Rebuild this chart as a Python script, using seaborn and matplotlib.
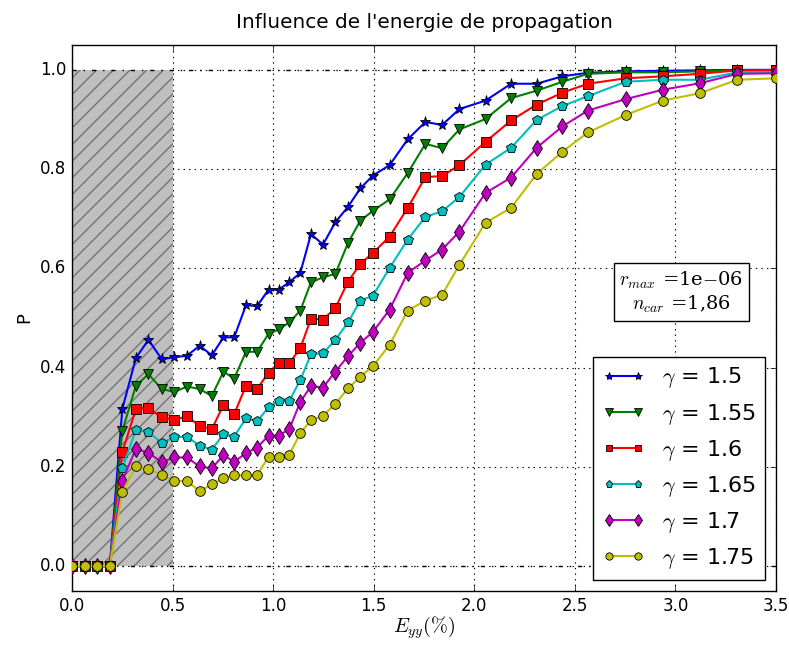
import numpy as np
import matplotlib
matplotlib.use("Agg")
import matplotlib.pyplot as plt
import seaborn as sns

# strain values (%)
e_yy = [0, 0.0625, 0.125, 0.1875, 0.25, 0.318, 0.38, 0.446, 0.509, 0.571, 0.634,
        0.695, 0.753, 0.806, 0.865, 0.92, 0.977, 1.027, 1.08, 1.135, 1.188, 1.248,
        1.309, 1.372, 1.433, 1.496, 1.579, 1.669, 1.757, 1.84, 1.926, 2.056, 2.183,
        2.31, 2.438, 2.565, 2.753, 2.938, 3.122, 3.308, 3.5]

p_150 = [0, 0, 0, 0, 0.317, 0.42, 0.456, 0.417, 0.421, 0.424, 0.444, 0.425, 0.461,
         0.461, 0.526, 0.524, 0.557, 0.557, 0.572, 0.591, 0.669, 0.648, 0.693, 0.724,
         0.761, 0.787, 0.808, 0.86, 0.895, 0.889, 0.921, 0.938, 0.972, 0.972, 0.987,
         0.994, 0.997, 0.998, 0.999, 1.0, 1.0]
p_155 = [0, 0, 0, 0, 0.273, 0.364, 0.387, 0.357, 0.351, 0.362, 0.357, 0.343, 0.392,
         0.378, 0.432, 0.432, 0.468, 0.477, 0.491, 0.515, 0.572, 0.582, 0.589, 0.651,
         0.696, 0.716, 0.739, 0.792, 0.851, 0.842, 0.88, 0.901, 0.943, 0.958, 0.976,
         0.992, 0.995, 0.995, 0.997, 0.999, 0.999]
p_160 = [0, 0, 0, 0, 0.23, 0.317, 0.318, 0.30, 0.295, 0.302, 0.283, 0.276, 0.325,
         0.306, 0.364, 0.357, 0.39, 0.409, 0.409, 0.439, 0.499, 0.497, 0.52, 0.573,
         0.609, 0.631, 0.664, 0.722, 0.784, 0.786, 0.808, 0.855, 0.898, 0.93, 0.954,
         0.972, 0.983, 0.987, 0.992, 0.999, 0.999]
p_165 = [0, 0, 0, 0, 0.197, 0.275, 0.27, 0.249, 0.26, 0.261, 0.243, 0.235, 0.266,
         0.261, 0.298, 0.292, 0.32, 0.333, 0.333, 0.375, 0.427, 0.429, 0.456, 0.491,
         0.535, 0.545, 0.601, 0.658, 0.704, 0.715, 0.744, 0.809, 0.843, 0.899, 0.927,
         0.947, 0.976, 0.98, 0.98, 0.995, 0.995]
p_170 = [0, 0, 0, 0, 0.172, 0.237, 0.228, 0.21, 0.219, 0.219, 0.201, 0.197, 0.224,
         0.21, 0.228, 0.239, 0.263, 0.263, 0.276, 0.331, 0.363, 0.36, 0.392, 0.423,
         0.45, 0.472, 0.517, 0.591, 0.616, 0.638, 0.674, 0.752, 0.783, 0.843, 0.886,
         0.918, 0.941, 0.96, 0.973, 0.992, 0.993]
p_175 = [0, 0, 0, 0, 0.15, 0.202, 0.196, 0.183, 0.172, 0.172, 0.151, 0.165, 0.177,
         0.183, 0.183, 0.183, 0.221, 0.221, 0.224, 0.268, 0.294, 0.303, 0.327, 0.358,
         0.382, 0.403, 0.446, 0.515, 0.535, 0.547, 0.607, 0.692, 0.722, 0.79, 0.835,
         0.874, 0.909, 0.938, 0.953, 0.98, 0.983]

gammas = ["1.5", "1.55", "1.6", "1.65", "1.7", "1.75"]
curves = [p_150, p_155, p_160, p_165, p_170, p_175]

colors = ["b", "g", "r", "c", "m", "y"]
markers = ["*", "v", "s", "p", "d", "o"]
msizes = [8, 7, 6.5, 7, 8, 7]


def main():
    plt.style.use("classic")
    plt.rcParams["figure.facecolor"] = "white"

    fig = plt.figure(figsize=(7.89, 6.45), dpi=100)
    ax = fig.add_axes([0.0913, 0.0837, 0.8922, 0.8465])

    # shaded zone below 0.5 %
    ax.fill_between([0, 0.5], 0, 1, facecolor="0.75", edgecolor="0.45",
                    hatch="//", linewidth=0.0, zorder=1)
    ax.axhline(0, color="k", ls="-.", lw=1, zorder=1.5)
    ax.axhline(1, color="k", ls="-.", lw=1, zorder=1.5)

    for p, g, c, m, ms in zip(curves, gammas, colors, markers, msizes):
        sns.lineplot(x=e_yy, y=p, ax=ax, color=c, marker=m, markersize=ms,
                     markeredgecolor="k", markeredgewidth=0.6, linewidth=1.5,
                     label=r"$\gamma$ = " + g, zorder=3)

    ax.set_xlim(0, 3.5)
    ax.set_ylim(-0.05, 1.05)
    ax.set_xticks(np.arange(0, 3.51, 0.5))
    ax.set_yticks(np.arange(0, 1.01, 0.2))
    ax.grid(True, color="k", ls=":", lw=0.8)
    ax.set_axisbelow(True)

    ax.set_title("Influence de l'energie de propagation", fontsize=14.4, pad=12)
    ax.set_xlabel(r"$E_{yy}(\%)$", fontsize=14.5, labelpad=0)
    ax.set_ylabel("P", fontsize=13)

    ax.text(3.03, 0.552, "$r_{max}$ =1e$-$06\n$n_{car}$ =1,86",
            ha="center", va="center", fontsize=14, family="serif",
            math_fontfamily="cm",
            bbox=dict(boxstyle="square,pad=0.3", fc="white", ec="k", lw=1))

    ax.legend(loc="lower right", fontsize=16, numpoints=2, fancybox=False,
              framealpha=1, markerscale=0.75, handlelength=1.9)

    fig.savefig("out.png", dpi=100, facecolor="white")
    plt.close(fig)


if __name__ == "__main__":
    main()
